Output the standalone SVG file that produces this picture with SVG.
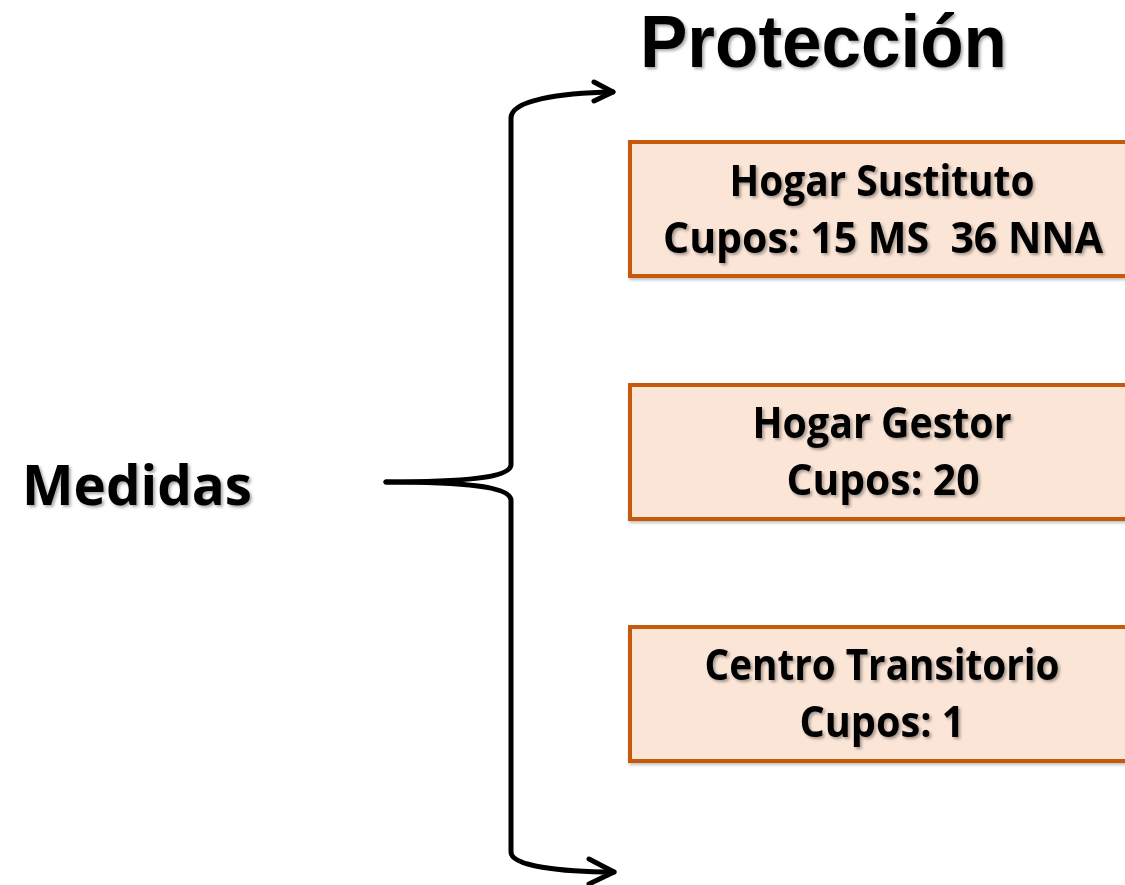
<svg xmlns="http://www.w3.org/2000/svg" width="1125" height="885" viewBox="0 0 1125 885">
  <defs>
    <filter id="shadow" x="-10%" y="-20%" width="120%" height="150%">
      <feDropShadow dx="2" dy="2" stdDeviation="1.5" flood-color="#000" flood-opacity="0.35"/>
    </filter>
    <filter id="boxshadow" x="-5%" y="-10%" width="110%" height="125%">
      <feDropShadow dx="1" dy="2" stdDeviation="1.5" flood-color="#000" flood-opacity="0.25"/>
    </filter>
  </defs>
  <style>
    .box { fill: #FBE5D6; stroke: #C55A11; stroke-width: 4; }
    .lbl { font-family: "Open Sans", Lato, "Liberation Sans", sans-serif; font-weight: bold; font-size: 43px; fill: #000; text-anchor: middle; }
    .title { font-family: "Liberation Sans", Arial, sans-serif; font-weight: bold; font-size: 74px; fill: #000; }
    .big { font-family: "Open Sans", Lato, "Liberation Sans", sans-serif; font-weight: bold; font-size: 56px; fill: #000; }
    .conn { fill: none; stroke: #000; stroke-width: 5; stroke-linecap: round; stroke-linejoin: round; }
  </style>
  <rect width="1125" height="885" fill="#fff"/>

  <g id="title" filter="url(#shadow)">
    <text class="title" x="640" y="67" textLength="367" lengthAdjust="spacingAndGlyphs">Protección</text>
  </g>

  <g id="medidas" filter="url(#shadow)">
    <text class="big" x="22" y="505" textLength="230" lengthAdjust="spacingAndGlyphs">Medidas</text>
  </g>

  <g id="connectors">
    <path class="conn" d="M386,482 C460,482 510,478 511,465 L511,118 C511,100 560,93 613,92"/>
    <path class="conn" d="M594,82 L613,92 L594,101"/>
    <path class="conn" d="M386,482 C460,482 510,486 511,500 L511,852 C511,866 560,872 614,872"/>
    <path class="conn" d="M589,859 L614,872 L589,884"/>
  </g>

  <g id="hogar-sustituto">
    <rect class="box" x="630" y="142" width="510" height="134" filter="url(#boxshadow)"/>
    <g filter="url(#shadow)">
      <text class="lbl" x="882" y="196" textLength="305" lengthAdjust="spacingAndGlyphs">Hogar Sustituto</text>
      <text class="lbl" x="883" y="253" textLength="440" lengthAdjust="spacingAndGlyphs" xml:space="preserve">Cupos: 15 MS  36 NNA</text>
    </g>
  </g>

  <g id="hogar-gestor">
    <rect class="box" x="630" y="385" width="510" height="134" filter="url(#boxshadow)"/>
    <g filter="url(#shadow)">
      <text class="lbl" x="882" y="438" textLength="259" lengthAdjust="spacingAndGlyphs">Hogar Gestor</text>
      <text class="lbl" x="883" y="495" textLength="193" lengthAdjust="spacingAndGlyphs">Cupos: 20</text>
    </g>
  </g>

  <g id="centro-transitorio">
    <rect class="box" x="630" y="627" width="510" height="134" filter="url(#boxshadow)"/>
    <g filter="url(#shadow)">
      <text class="lbl" x="882" y="680" textLength="355" lengthAdjust="spacingAndGlyphs">Centro Transitorio</text>
      <text class="lbl" x="882" y="737" textLength="165" lengthAdjust="spacingAndGlyphs">Cupos: 1</text>
    </g>
  </g>
</svg>
